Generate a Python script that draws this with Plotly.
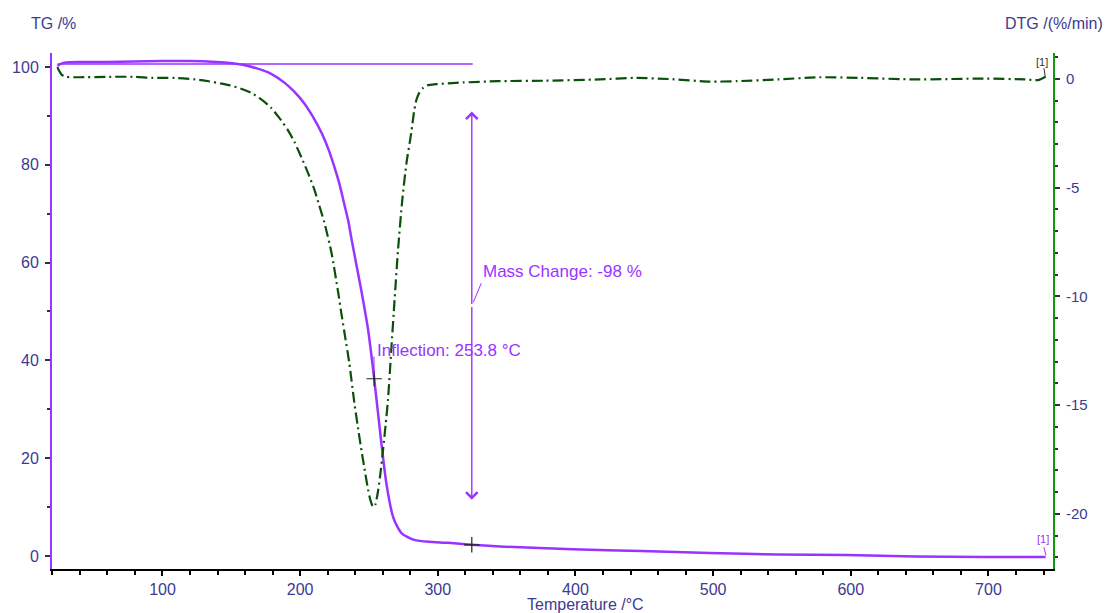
import numpy as np
import plotly.graph_objects as go

# ---------------- data ----------------
tg_temp = [23.7, 25.7, 29.7, 39.6, 59.6, 79.5, 99.4, 119.3, 139.2, 149.1, 159.1, 172.0, 179.0,
           189.0, 195.9, 202.9, 208.9, 215.8, 220.8, 224.8, 228.8, 232.2, 235.0, 237.2, 240.7,
           244.5, 249.4, 253.7, 259.0, 262.6, 267.5, 270.6, 273.6, 278.5, 282.9, 293.5, 307.4,
           324.3, 348.2, 398.0, 447.8, 497.5, 547.3, 597.1, 646.8, 696.6, 741.5]
tg_mass = [100.2, 100.6, 100.9, 101.0, 101.0, 101.1, 101.2, 101.2, 101.0, 100.8, 100.4, 99.4,
           98.6, 96.7, 94.9, 92.6, 90.0, 86.4, 83.0, 79.6, 75.8, 71.8, 68.5, 65.0, 59.8, 54.2,
           46.2, 36.5, 23.1, 14.9, 8.0, 6.0, 4.7, 3.8, 3.3, 2.9, 2.7, 2.3, 1.9, 1.4, 1.0, 0.6,
           0.3, 0.2, -0.1, -0.2, -0.2]

dtg_temp = [23.7, 24.7, 26.7, 29.7, 39.6, 59.6, 79.5, 92.4, 109.3, 128.2, 148.2, 157.1, 165.1,
            172.0, 179.0, 185.0, 191.0, 195.9, 200.9, 205.9, 210.4, 213.8, 217.6, 222.8, 227.6,
            230.0, 232.8, 235.7, 239.4, 241.7, 244.5, 246.7, 249.4, 251.2, 253.0, 254.7, 256.7,
            258.6, 260.2, 262.1, 263.8, 266.2, 268.6, 271.1, 274.2, 277.2, 280.7, 282.9, 284.5,
            286.5, 289.5, 292.9, 298.5, 307.4, 318.4, 343.3, 378.1, 417.9, 442.8, 467.7, 497.5,
            517.4, 547.3, 577.2, 607.0, 646.8, 696.6, 726.5, 736.4, 741.5]
dtg_rate = [0.55, 0.4, 0.2, 0.1, 0.08, 0.1, 0.1, 0.05, 0.05, -0.05, -0.28, -0.45, -0.66, -0.95,
            -1.33, -1.8, -2.34, -2.9, -3.6, -4.35, -5.1, -5.8, -6.6, -8.0, -9.8, -10.8, -11.9,
            -13.06, -14.9, -15.9, -17.06, -17.9, -18.9, -19.4, -19.68, -19.55, -18.9, -18.0,
            -17.06, -15.9, -14.76, -12.46, -10.16, -7.86, -5.56, -3.88, -2.48, -1.43, -0.95,
            -0.64, -0.4, -0.28, -0.24, -0.2, -0.16, -0.1, -0.08, -0.02, 0.05, 0.0, -0.12, -0.1,
            -0.02, 0.08, 0.05, -0.02, 0.02, -0.02, -0.05, 0.1]

inflection_temp = 253.8
mass_change_temp = 324.7
mass_change_label = "Mass Change: -98 %"
inflection_label = "Inflection: 253.8 °C"
ref_level = 100.6

x_ticks = [100, 200, 300, 400, 500, 600, 700]
tg_ticks = [0, 20, 40, 60, 80, 100]
dtg_ticks = [0, -5, -10, -15, -20]
dtg_ticktext = ["0", "-5", "-10", "-15", "-20"]

# ---------------- styling ----------------
PURPLE = "#9933FF"
GREEN_LINE = "#0b4f0b"
GREEN_AXIS = "#119911"
NAVY = "#3b3b8f"
FONT = "Liberation Sans, Arial, sans-serif"

fig = go.Figure()

fig.add_trace(go.Scatter(x=tg_temp, y=tg_mass, mode="lines",
                         line=dict(color=PURPLE, width=2.5, shape="spline", smoothing=0.6),
                         yaxis="y", hoverinfo="skip"))
fig.add_trace(go.Scatter(x=dtg_temp, y=dtg_rate, mode="lines",
                         line=dict(color=GREEN_LINE, width=2.2, dash="11px,4px,2px,4px",
                                   shape="spline", smoothing=0.6),
                         yaxis="y2", hoverinfo="skip"))

# reference line (start mass)
fig.add_trace(go.Scatter(x=[tg_temp[0], mass_change_temp + 0.7], y=[ref_level, ref_level],
                         mode="lines", line=dict(color=PURPLE, width=1.5), hoverinfo="skip"))

infl_mass = float(np.interp(inflection_temp, tg_temp, tg_mass))
end_mass = float(np.interp(mass_change_temp, tg_temp, tg_mass))

# cross markers
fig.add_trace(go.Scatter(x=[inflection_temp, mass_change_temp], y=[infl_mass, end_mass],
                         mode="markers",
                         marker=dict(symbol="cross-thin", size=11, line=dict(color="#222222", width=1.2)),
                         hoverinfo="skip"))

annotations = []
# double-headed arrow for mass change
arrow_top = 90.9
arrow_bot = 11.5
mid = (arrow_top + arrow_bot) / 2
for yend in (arrow_top, arrow_bot):
    annotations.append(dict(x=mass_change_temp, y=yend, ax=mass_change_temp, ay=mid,
                            xref="x", yref="y", axref="x", ayref="y", text="",
                            showarrow=True, arrowhead=4, arrowsize=1.6, arrowwidth=1.4,
                            arrowcolor=PURPLE))

annotations.append(dict(x=331.5, y=58.1, xref="x", yref="y", text=mass_change_label,
                        showarrow=False, xanchor="left", yanchor="middle",
                        font=dict(family=FONT, size=17, color=PURPLE)))
annotations.append(dict(x=254.6, y=42.1, xref="x", yref="y", text=inflection_label,
                        showarrow=False, xanchor="left", yanchor="middle",
                        font=dict(family=FONT, size=17, color=PURPLE)))
# [1] labels
annotations.append(dict(x=739.6, y=3.4, xref="x", yref="y", text="[1]", showarrow=False,
                        font=dict(family=FONT, size=11, color=PURPLE)))
annotations.append(dict(x=738.8, y=0.8, xref="x", yref="y2", text="[1]", showarrow=False,
                        font=dict(family=FONT, size=11, color="#333333")))

# axis titles
annotations.append(dict(x=-0.0229, y=1.058, xref="paper", yref="paper", text="TG /%",
                        showarrow=False, xanchor="left", yanchor="middle",
                        font=dict(family=FONT, size=16, color=NAVY)))
annotations.append(dict(x=1.052, y=1.058, xref="paper", yref="paper", text="DTG /(%/min)",
                        showarrow=False, xanchor="right", yanchor="middle",
                        font=dict(family=FONT, size=16, color=NAVY)))
annotations.append(dict(x=0.533, y=-0.068, xref="paper", yref="paper", text="Temperature /°C",
                        showarrow=False, xanchor="center", yanchor="middle",
                        font=dict(family=FONT, size=16, color=NAVY)))

shapes = [
    # mass change leader
    dict(type="line", xref="x", yref="y", x0=325.8, y0=51.9, x1=331.6, y1=55.8,
         line=dict(color=PURPLE, width=1)),
    # inflection leader
    dict(type="line", xref="x", yref="y", x0=253.6, y0=40.8, x1=253.8, y1=infl_mass + 1.0,
         line=dict(color=PURPLE, width=1)),
    # [1] leaders
    dict(type="line", xref="x", yref="y", x0=740.3, y0=1.8, x1=741.8, y1=0.1,
         line=dict(color=PURPLE, width=1)),
    dict(type="line", xref="x", yref="y2", x0=740.3, y0=0.5, x1=741.3, y1=0.1,
         line=dict(color="#333333", width=1)),
]

fig.update_layout(
    width=1109, height=613,
    margin=dict(l=50, r=56, t=53, b=44),
    paper_bgcolor="white", plot_bgcolor="white",
    showlegend=False,
    font=dict(family=FONT, size=16, color=NAVY),
    annotations=annotations,
    shapes=shapes,
    xaxis=dict(range=[19.74, 746.9], tickvals=x_ticks, showline=True, linecolor="black",
               linewidth=2, ticks="outside", ticklen=5, tickcolor="black", tickwidth=1.5,
               minor=dict(dtick=20, tick0=0, ticks="outside", ticklen=4, tickcolor="black"),
               showgrid=False, zeroline=False, tickfont=dict(family=FONT, size=16, color=NAVY)),
    yaxis=dict(range=[-2.66, 102.86], tickvals=tg_ticks, showline=True, linecolor=PURPLE,
               linewidth=2, ticks="outside", ticklen=5, tickcolor="#333333", tickwidth=1.5,
               minor=dict(dtick=10, tick0=0, ticks="outside", ticklen=3, tickcolor="#333333"),
               showgrid=False, zeroline=False, tickfont=dict(family=FONT, size=16, color=NAVY),
               ticklabelstandoff=3),
    yaxis2=dict(range=[-22.53, 1.195], tickvals=dtg_ticks, ticktext=dtg_ticktext,
                overlaying="y", side="right",
                showline=True, linecolor=GREEN_AXIS, linewidth=2, ticks="outside", ticklen=5,
                tickcolor="#333333", tickwidth=1.5,
                minor=dict(dtick=1, tick0=0, ticks="outside", ticklen=3, tickcolor="#333333"),
                showgrid=False, zeroline=False, tickfont=dict(family=FONT, size=15, color=NAVY),
                ticklabelstandoff=3),
)

fig.write_html("out.html", config={"displayModeBar": False},
               post_script="document.body.style.margin='0';document.body.style.overflow='hidden';")
